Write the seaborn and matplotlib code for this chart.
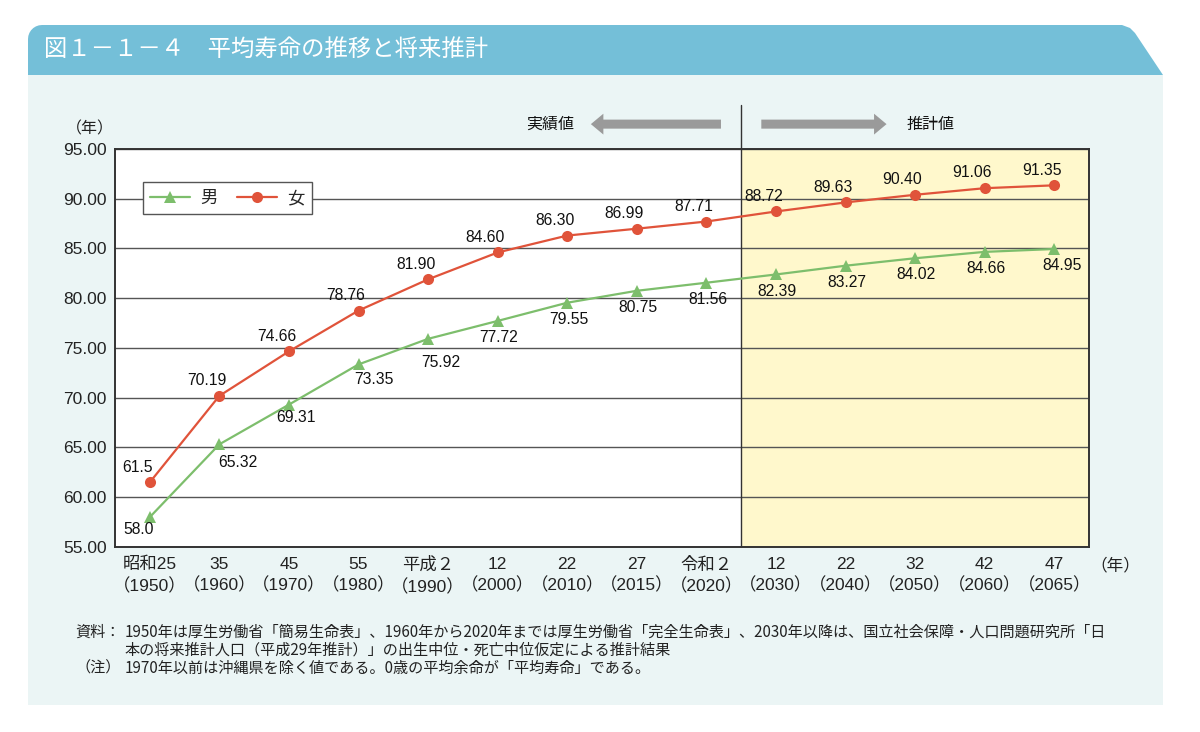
import numpy as np
import pandas as pd
import matplotlib.pyplot as plt
from matplotlib.patches import Polygon, Rectangle
import seaborn as sns

# data
era_labels = ['昭和25', '35', '45', '55', '平成２', '12', '22', '27', '令和２',
              '12', '22', '32', '42', '47']
years = [1950, 1960, 1970, 1980, 1990, 2000, 2010, 2015, 2020,
         2030, 2040, 2050, 2060, 2065]
male = [58.0, 65.32, 69.31, 73.35, 75.92, 77.72, 79.55, 80.75, 81.56,
        82.39, 83.27, 84.02, 84.66, 84.95]
female = [61.5, 70.19, 74.66, 78.76, 81.90, 84.60, 86.30, 86.99, 87.71,
          88.72, 89.63, 90.40, 91.06, 91.35]
first_projection = 2030

df = pd.DataFrame({'pos': range(len(years)), 'year': years, '男': male, '女': female})

sns.set_theme(style='white')
plt.rcParams['font.family'] = ['Liberation Sans', 'Noto Sans CJK JP']

W, H = 1200, 732
fig = plt.figure(figsize=(12, 7.32), dpi=100)
fig.patch.set_facecolor('white')


def fx(x, y):
    return (x / W, 1 - y / H)


# background panel + header band
fig.patches.append(Rectangle(fx(28, 705), (1163 - 28) / W, (705 - 75) / H,
                             transform=fig.transFigure, facecolor='#EBF5F5',
                             edgecolor='none', zorder=-3))
r = 14
arc = [(28 + r - r * np.cos(t), 25 + r - r * np.sin(t)) for t in np.linspace(0, np.pi / 2, 8)]
pts = [(28, 75)] + arc + [(1122, 25), (1130, 28), (1135, 33), (1163, 75)]
fig.patches.append(Polygon([fx(x, y) for x, y in pts], closed=True,
                           transform=fig.transFigure, facecolor='#74BFD8',
                           edgecolor='none', zorder=-2))
fig.text(44 / W, 1 - 49 / H, '図１－１－４　平均寿命の推移と将来推計', color='white',
         fontsize=16.8, va='center', ha='left', family=['Noto Sans CJK JP'])

ax = fig.add_axes([115 / W, 1 - 547 / H, (1089 - 115) / W, (547 - 149) / H])
ax.set_zorder(1)
ax.set_facecolor('white')

split = years.index(first_projection) - 0.5
ax.axvspan(split, len(years) - 0.5, color='#FFF8CC', zorder=0, lw=0)

male_c = '#7DBE6C'
female_c = '#E0533A'
sns.lineplot(data=df, x='pos', y='男', ax=ax, color=male_c, lw=1.6, marker='^',
             markersize=9, markeredgewidth=0, label='男', zorder=4)
sns.lineplot(data=df, x='pos', y='女', ax=ax, color=female_c, lw=1.6, marker='o',
             markersize=8, markeredgewidth=0, label='女', zorder=5)

ax.set_xlim(-0.5, len(years) - 0.5)
ax.set_ylim(55, 95)
ax.set_yticks(np.arange(55, 96, 5))
ax.set_yticklabels([f'{v:.2f}' for v in np.arange(55, 96, 5)], fontsize=12.5, color='#222222')
ax.set_xticks(range(len(years)))
ax.set_xticklabels([f'{e}\n（{y}）' for e, y in zip(era_labels, years)],
                   fontsize=12.5, color='#222222', linespacing=1.4)
ax.set_xticks(np.arange(0.5, len(years) - 1, 1), minor=True)
ax.tick_params(axis='x', which='major', length=0, pad=7)
ax.tick_params(axis='x', which='minor', direction='in', length=5, color='#444444', width=1)
ax.tick_params(axis='y', which='major', length=0, pad=6)
ax.set_xlabel('')
ax.set_ylabel('')
ax.grid(axis='y', color='#555555', lw=1)
ax.set_axisbelow(True)
for s in ax.spines.values():
    s.set_color('#333333')
    s.set_linewidth(1.4)
ax.axvline(split, color='#333333', lw=1, zorder=3)
ax.plot([split, split], [95, 99.4], color='#333333', lw=1, clip_on=False)

# value labels
for i, v in enumerate(female):
    txt = f'{v:.1f}' if i == 0 else f'{v:.2f}'
    ax.annotate(txt, (i, v), xytext=(-9, 11), textcoords='offset points',
                ha='center', va='center', fontsize=11.3, color='#111111', zorder=6)
male_off = {0: (-8, -9), 1: (13, -13), 2: (5, -9.5), 3: (11, -11), 4: (9, -17)}
for i, v in enumerate(male):
    txt = f'{v:.1f}' if i == 0 else f'{v:.2f}'
    ox, oy = male_off.get(i, (1, -12))
    if i == len(male) - 1:
        ox = 6
    ax.annotate(txt, (i, v), xytext=(ox, oy), textcoords='offset points',
                ha='center', va='center', fontsize=11.3, color='#111111', zorder=6)

# arrows above the plot
arrow_kw = dict(arrowstyle='simple,head_length=0.9,head_width=1.5,tail_width=0.65',
                color='#9A9A9A', mutation_scale=10, lw=0)
ax.annotate('', xy=(split - 2.2, 97.5), xytext=(split - 0.25, 97.5),
            arrowprops=arrow_kw, annotation_clip=False)
ax.annotate('', xy=(split + 2.13, 97.5), xytext=(split + 0.25, 97.5),
            arrowprops=arrow_kw, annotation_clip=False)
ax.text(split - 2.75, 97.5, '実績値', ha='center', va='center', fontsize=11.5,
        family=['Noto Sans CJK JP'], color='#111111')
ax.text(split + 2.72, 97.5, '推計値', ha='center', va='center', fontsize=11.5,
        family=['Noto Sans CJK JP'], color='#111111')

leg = ax.legend(loc='upper left', bbox_to_anchor=(0.029, 0.917), ncol=2,
                frameon=True, fancybox=False, handlelength=2.3, borderaxespad=0,
                columnspacing=1.1, borderpad=0.4, handletextpad=0.6,
                prop={'family': ['Noto Sans CJK JP'], 'size': 12.5})
leg.get_frame().set_edgecolor('#555555')
leg.get_frame().set_linewidth(1)
leg.get_frame().set_facecolor('white')
leg.get_frame().set_alpha(1)

fig.text(90 / W, 1 - 129 / H, '（年）', ha='center', va='center', fontsize=11.5,
         family=['Noto Sans CJK JP'], color='#222222')
fig.text(1115 / W, 1 - 566 / H, '（年）', ha='center', va='center', fontsize=12,
         family=['Noto Sans CJK JP'], color='#222222')

notes = [
    (75, 632, '資料：'),
    (125, 632, '1950年は厚生労働省「簡易生命表」、1960年から2020年までは厚生労働省「完全生命表」、2030年以降は、国立社会保障・人口問題研究所「日'),
    (125, 650, '本の将来推計人口（平成29年推計）」の出生中位・死亡中位仮定による推計結果'),
    (75, 668, '（注）'),
    (125, 668, '1970年以前は沖縄県を除く値である。0歳の平均余命が「平均寿命」である。'),
]
for x, y, t in notes:
    fig.text(x / W, 1 - y / H, t, ha='left', va='center', fontsize=10.9,
             family=['Noto Sans CJK JP'], color='#222222')

fig.savefig('out.png', dpi=100, facecolor=fig.get_facecolor())
